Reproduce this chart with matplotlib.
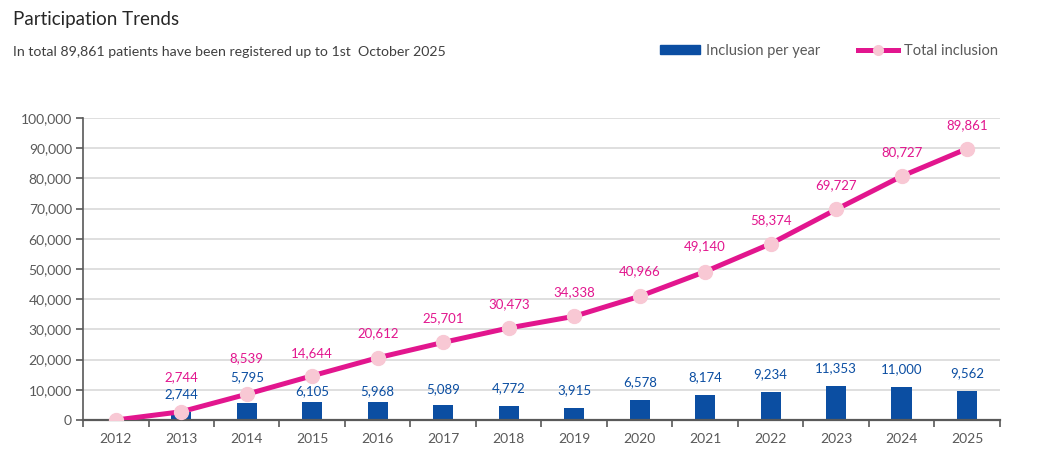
import matplotlib.pyplot as plt
import numpy as np
from matplotlib.lines import Line2D
from matplotlib.patches import Patch

plt.rcParams['font.family'] = ['Lato', 'DejaVu Sans']

years = ['2012', '2013', '2014', '2015', '2016', '2017', '2018', '2019',
         '2020', '2021', '2022', '2023', '2024', '2025']
per_year = [0, 2744, 5795, 6105, 5968, 5089, 4772, 3915,
            6578, 8174, 9234, 11353, 11000, 9562]
total = [0, 2744, 8539, 14644, 20612, 25701, 30473, 34338,
         40966, 49140, 58374, 69727, 80727, 89861]

# label lift above each mark, in pixels (labels were nudged by hand in the original)
bar_lift = [0, 18, 25, 10, 11, 15, 17, 18, 18, 18, 18, 18, 18, 18]
line_lift = [0, 35, 36, 23, 25, 24, 24, 24, 25, 25, 24, 24, 24, 23]

bar_color = '#0B4EA2'
line_color = '#E2168E'
marker_color = '#F8C8D4'
grey = '#595959'
px = 0.72  # pixels -> points at 100 dpi

fig = plt.figure(figsize=(10.47, 4.61), dpi=100)
ax = fig.add_axes([0.0793, 0.0889, 0.8757, 0.6551])

x = np.arange(len(years))
ax.bar(x[1:], per_year[1:], width=0.31, color=bar_color, zorder=2)
ax.plot(x, total, color=line_color, linewidth=3.6, marker='o', markersize=10,
        markerfacecolor=marker_color, markeredgecolor=marker_color, zorder=3)

# data labels
for i in range(1, len(years)):
    ax.annotate(f"{per_year[i]:,}", (x[i], per_year[i]), xytext=(0, bar_lift[i] * px),
                textcoords='offset points', ha='center', va='center',
                color=bar_color, fontsize=9.5, zorder=4)
    ax.annotate(f"{total[i]:,}", (x[i], total[i]), xytext=(0, line_lift[i] * px),
                textcoords='offset points', ha='center', va='center',
                color=line_color, fontsize=9.5, zorder=4)

ax.set_xlim(-0.5, len(years) - 0.5)
ax.set_ylim(0, 100000)
ax.set_yticks(np.arange(0, 100001, 10000))
ax.set_yticklabels([f"{v:,}" for v in range(0, 100001, 10000)])
ax.set_xticks(x)
ax.set_xticklabels(years)
ax.set_xticks(np.arange(-0.5, len(years), 1), minor=True)

ax.grid(axis='y', color='#D9D9D9', linewidth=1.2, zorder=0)
ax.set_axisbelow(True)
for s in ['top', 'right']:
    ax.spines[s].set_visible(False)
ax.spines['left'].set_color(grey)
ax.spines['bottom'].set_color(grey)
ax.spines['left'].set_linewidth(1.2)
ax.spines['bottom'].set_linewidth(1.6)
ax.tick_params(axis='x', which='major', length=0, pad=9, labelcolor=grey, labelsize=10)
ax.tick_params(axis='x', which='minor', length=5, color=grey, width=1.2)
ax.tick_params(axis='y', length=5, color=grey, width=1.2, labelcolor=grey, labelsize=10, pad=3)

fig.text(0.012, 0.957, 'Participation Trends', fontsize=13.5, color='#262626', va='center')
fig.text(0.012, 0.887, 'In total 89,861 patients have been registered up to 1st  October 2025',
         fontsize=10.2, color='#404040', va='center')

handles = [Patch(color=bar_color),
           Line2D([0], [0], color=line_color, linewidth=3.6, marker='o', markersize=7,
                  markerfacecolor=marker_color, markeredgecolor=marker_color)]
fig.legend(handles, ['Inclusion per year', 'Total inclusion'], loc='center',
           bbox_to_anchor=(0.792, 0.89), ncol=2, frameon=False, fontsize=10.5,
           labelcolor=grey, handlelength=2.7, handleheight=0.5, columnspacing=2.6,
           handletextpad=0.45)

plt.savefig('out.png', dpi=100)
